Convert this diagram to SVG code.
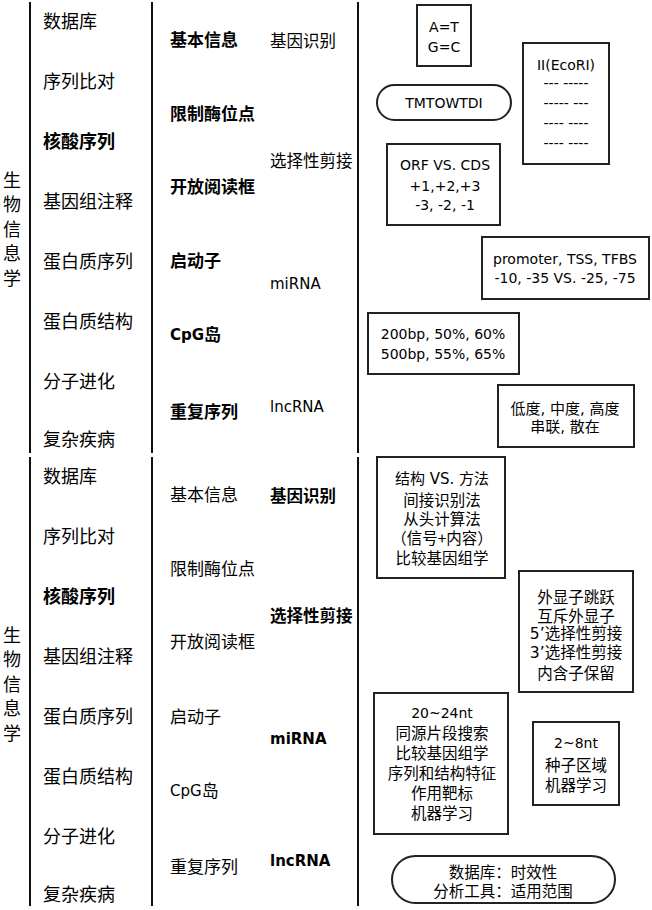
<svg xmlns="http://www.w3.org/2000/svg" width="652" height="910" viewBox="0 0 652 910">
<style>
text{dominant-baseline:central;fill:#000}
.cj{font-family:"Noto Sans CJK SC",sans-serif}
.la{font-family:"DejaVu Sans","Noto Sans CJK SC",sans-serif}
.l{font-size:18px}
.m{font-size:17px}
.t{font-size:16.5px}
.ml{font-size:15px}
.b{font-weight:bold}
.c{text-anchor:middle}
.bx{fill:#fff;stroke:#222;stroke-width:2}
.bl{font-size:14px}
.bc{font-size:15.5px}
.sep{stroke:#111;stroke-width:2}
</style>
<rect width="652" height="910" fill="#fff"/>
<g id="separators">
<line class="sep" x1="30" y1="2" x2="30" y2="453"/>
<line class="sep" x1="30" y1="457" x2="30" y2="906"/>
<line class="sep" x1="152" y1="2" x2="152" y2="453"/>
<line class="sep" x1="152" y1="457" x2="152" y2="906"/>
<line class="sep" x1="358" y1="2" x2="358" y2="453"/>
<line class="sep" x1="358" y1="457" x2="358" y2="906"/>
</g>

<!-- Upper half -->
<g id="title-top" class="cj l c">
<text x="12" y="178.5">生</text>
<text x="12" y="203">物</text>
<text x="12" y="227.5">信</text>
<text x="12" y="252">息</text>
<text x="12" y="276.5">学</text>
</g>
<g id="left-top" class="cj l">
<text x="43" y="20">数据库</text>
<text x="43" y="80">序列比对</text>
<text x="43" y="140" class="b">核酸序列</text>
<text x="43" y="200">基因组注释</text>
<text x="43" y="260">蛋白质序列</text>
<text x="43" y="320">蛋白质结构</text>
<text x="43" y="380">分子进化</text>
<text x="43" y="438">复杂疾病</text>
</g>
<g id="mid-top" class="b">
<text x="170" y="38" class="cj m">基本信息</text>
<text x="170" y="112" class="cj m">限制酶位点</text>
<text x="170" y="185" class="cj m">开放阅读框</text>
<text x="170" y="259" class="cj m">启动子</text>
<text x="170" y="335" class="la ml">CpG<tspan class="m">岛</tspan></text>
<text x="170" y="410" class="cj m">重复序列</text>
</g>
<g id="third-top">
<text x="270" y="40" class="cj t">基因识别</text>
<text x="270" y="160" class="cj t">选择性剪接</text>
<text x="270" y="284" class="la ml">miRNA</text>
<text x="270" y="407" class="la ml">lncRNA</text>
</g>

<g id="box-AT">
<rect class="bx" x="417" y="5" width="54" height="61"/>
<text class="la bl c" x="444" y="27">A=T</text>
<text class="la bl c" x="444" y="47">G=C</text>
</g>
<g id="box-EcoRI">
<rect class="bx" x="523" y="43" width="86" height="121"/>
<text class="la bl c" x="566" y="65">II(EcoRI)</text>
<text class="la bl c" x="566" y="83">--- -----</text>
<text class="la bl c" x="566" y="103">----- ---</text>
<text class="la bl c" x="566" y="123">---- ----</text>
<text class="la bl c" x="566" y="143">---- ----</text>
</g>
<g id="pill-TMTOWTDI">
<rect class="bx" x="377" y="85" width="134" height="35" rx="17.5"/>
<text class="la bl c" x="444" y="103">TMTOWTDI</text>
</g>
<g id="box-ORF">
<rect class="bx" x="387" y="144" width="113" height="81"/>
<text class="la bl c" x="445" y="165">ORF VS. CDS</text>
<text class="la bl c" x="445" y="186">+1,+2,+3</text>
<text class="la bl c" x="445" y="205">-3, -2, -1</text>
</g>
<g id="box-promoter">
<rect class="bx" x="482" y="237" width="167" height="62"/>
<text class="la bl c" x="565" y="259">promoter, TSS, TFBS</text>
<text class="la bl c" x="565" y="278">-10, -35 VS. -25, -75</text>
</g>
<g id="box-CpG">
<rect class="bx" x="368" y="313" width="151" height="61"/>
<text class="la bl c" x="443" y="334">200bp, 50%, 60%</text>
<text class="la bl c" x="443" y="354">500bp, 55%, 65%</text>
</g>
<g id="box-repeat">
<rect class="bx" x="498" y="385" width="136" height="62"/>
<text class="la c" style="font-size:15px" x="565" y="409">低度, 中度, 高度</text>
<text class="la c" style="font-size:15px" x="565" y="427">串联, 散在</text>
</g>

<!-- Lower half -->
<g id="title-bottom" class="cj l c">
<text x="12" y="633.5">生</text>
<text x="12" y="658">物</text>
<text x="12" y="682.5">信</text>
<text x="12" y="707">息</text>
<text x="12" y="731.5">学</text>
</g>
<g id="left-bottom" class="cj l">
<text x="43" y="475">数据库</text>
<text x="43" y="535">序列比对</text>
<text x="43" y="595" class="b">核酸序列</text>
<text x="43" y="655">基因组注释</text>
<text x="43" y="715">蛋白质序列</text>
<text x="43" y="775">蛋白质结构</text>
<text x="43" y="835">分子进化</text>
<text x="43" y="893">复杂疾病</text>
</g>
<g id="mid-bottom">
<text x="170" y="493" class="cj m">基本信息</text>
<text x="170" y="567" class="cj m">限制酶位点</text>
<text x="170" y="640" class="cj m">开放阅读框</text>
<text x="170" y="715" class="cj m">启动子</text>
<text x="170" y="791" class="la ml">CpG<tspan class="m">岛</tspan></text>
<text x="170" y="865" class="cj m">重复序列</text>
</g>
<g id="third-bottom" class="b">
<text x="270" y="495" class="cj t">基因识别</text>
<text x="270" y="615" class="cj t">选择性剪接</text>
<text x="270" y="739" class="la ml">miRNA</text>
<text x="270" y="861" class="la ml">lncRNA</text>
</g>

<g id="box-geneid">
<rect class="bx" x="377" y="457" width="128" height="121"/>
<text class="la c" style="font-size:15px" x="442" y="479">结构 VS. 方法</text>
<text class="cj bc c" x="442" y="499">间接识别法</text>
<text class="cj bc c" x="442" y="518">从头计算法</text>
<text class="cj bc c" x="442" y="537">（信号+内容）</text>
<text class="cj bc c" x="442" y="557">比较基因组学</text>
</g>
<g id="box-splice">
<rect class="bx" x="519" y="571" width="114" height="121"/>
<text class="cj bc c" x="576" y="596">外显子跳跃</text>
<text class="cj bc c" x="576" y="615">互斥外显子</text>
<text class="la c" style="font-size:15.5px" x="576" y="634">5’选择性剪接</text>
<text class="la c" style="font-size:15.5px" x="576" y="653">3’选择性剪接</text>
<text class="cj bc c" x="576" y="672">内含子保留</text>
</g>
<g id="box-miRNA">
<rect class="bx" x="374" y="693" width="134" height="141"/>
<text class="la bl c" x="442" y="713">20~24nt</text>
<text class="cj bc c" x="442" y="732">同源片段搜索</text>
<text class="cj bc c" x="442" y="752">比较基因组学</text>
<text class="cj bc c" x="442" y="772">序列和结构特征</text>
<text class="cj bc c" x="442" y="792">作用靶标</text>
<text class="cj bc c" x="442" y="812">机器学习</text>
</g>
<g id="box-seed">
<rect class="bx" x="533" y="722" width="86" height="83"/>
<text class="la bl c" x="576" y="743">2~8nt</text>
<text class="cj bc c" x="576" y="764">种子区域</text>
<text class="cj bc c" x="576" y="784">机器学习</text>
</g>
<g id="pill-lncRNA">
<rect class="bx" x="392" y="856" width="223" height="47" rx="23.5"/>
<text class="cj bc c" x="503" y="871">数据库：时效性</text>
<text class="cj bc c" x="503" y="890">分析工具：适用范围</text>
</g>
</svg>
